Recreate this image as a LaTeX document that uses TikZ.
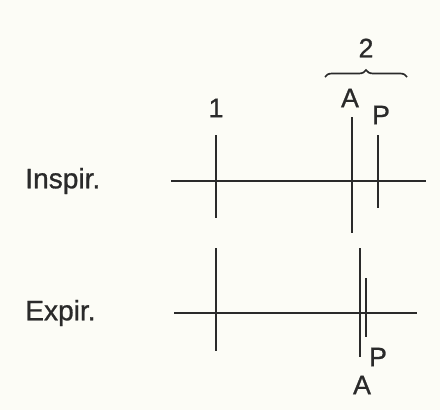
\documentclass[tikz,border=0pt]{standalone}
\usepackage{fontspec}
\setmainfont{Liberation Sans}
\newfontfamily\markfont{Liberation Sans}[FakeBold=0.9]
\usetikzlibrary{decorations.pathreplacing}
\definecolor{inkdark}{HTML}{2A2A2A}
\definecolor{paperbg}{HTML}{FCFCF6}

\begin{document}
\begin{tikzpicture}[
    x=0.025cm, y=-0.025cm,
    trace/.style={draw=inkdark, line width=1.5pt},
    marker/.style={draw=inkdark, line width=1.3pt},
    phase label/.style={font=\markfont\fontsize{20}{22}\selectfont, text=inkdark, anchor=west, inner sep=0pt},
    mark label/.style={font=\markfont\fontsize{19}{21}\selectfont, text=inkdark, inner sep=0pt},
    group brace/.style={draw=inkdark, line width=1.2pt,
        decorate, decoration={brace, amplitude=5pt}},
]

% ══════════════════════════════════════════════════════════════════════
%  DIMENSIONS (pixels of the 440 x 410 frame, y downwards)
% ══════════════════════════════════════════════════════════════════════
\def\inY{181}  \def\exY{313}          % trace rows
\def\oneX{216}                        % marker 1
\def\inAX{352} \def\inPX{378}         % inspiration A, P
\def\exAX{360} \def\exPX{366}         % expiration A, P

\fill[paperbg] (0,0) rectangle (440,410);
\useasboundingbox (0,0) rectangle (440,410);

% ── Inspiration ───────────────────────────────────────────────────────
\node[phase label] (inspir) at (25,\inY) {Inspir.};
\draw[trace] (171,\inY) -- (426,\inY);
\draw[marker] (\oneX,135) -- (\oneX,218);
\draw[marker] (\inAX,117) -- (\inAX,233);
\draw[marker] (\inPX,135) -- (\inPX,208);

% ── Expiration ────────────────────────────────────────────────────────
\node[phase label] (expir) at (25,\exY) {Expir.};
\draw[trace] (174,\exY) -- (417,\exY);
\draw[marker] (\oneX,248) -- (\oneX,351);
\draw[marker] (\exAX,248) -- (\exAX,357);
\draw[marker] (\exPX,278) -- (\exPX,337);

% ── Marker labels ─────────────────────────────────────────────────────
\node[mark label] (one)  at (\oneX,108) {1};
\node[mark label] (inA)  at (350,98)  {A};
\node[mark label] (inP)  at (381,115) {P};
\node[mark label] (exP)  at (378,357) {P};
\node[mark label] (exA)  at (362,385) {A};

\coordinate (braceL) at (325,77);
\coordinate (braceR) at (407,77);
\draw[group brace] (braceL) -- (braceR);
\node[mark label] (two) at (366,48) {2};

\end{tikzpicture}
\end{document}
